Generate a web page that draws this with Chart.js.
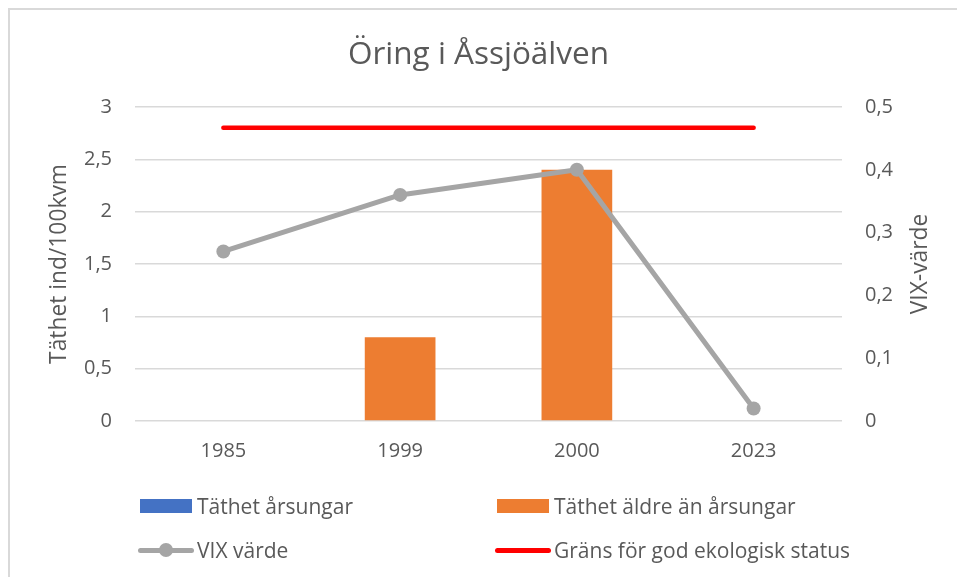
<!DOCTYPE html>
<html>
<head>
<meta charset="utf-8">
<script src="https://cdn.jsdelivr.net/npm/chart.js@4/dist/chart.umd.min.js"></script>
<style>
  html, body { margin: 0; padding: 0; background: #ffffff; }
  #wrap { position: relative; width: 957px; height: 577px; overflow: hidden; font-family: "Open Sans", sans-serif; }
  #frame { position: absolute; left: 8px; top: 8px; width: 1000px; height: 1000px; border-left: 2px solid #d9d9d9; border-top: 2px solid #d9d9d9; }
  canvas { position: absolute; left: 0; top: 0; }
  #legend { position: absolute; left: 0; top: 0; width: 957px; height: 577px; pointer-events: none; }
  .item { position: absolute; height: 30px; display: flex; align-items: center; color: #595959; font-size: 21px; white-space: nowrap; }
  .sw { position: relative; width: 52px; height: 30px; margin-right: 5px; flex: none; }
  .box { position: absolute; left: 0; top: 8px; width: 52px; height: 14px; }
  .ln { position: absolute; left: -2px; top: 13px; width: 56px; height: 5px; border-radius: 3px; }
  .dot { position: absolute; left: 19px; top: 8px; width: 14px; height: 14px; border-radius: 50%; }
</style>
</head>
<body>
<div id="wrap">
  <div id="frame"></div>
  <canvas id="c" width="957" height="577"></canvas>
  <div id="legend"></div>
</div>
<script>
const categories = ["1985", "1999", "2000", "2023"];
const tathetArsungar = [0, 0, 0, 0];
const tathetAldre = [0, 0.8, 2.4, 0];
const vixVarde = [0.27, 0.36, 0.40, 0.02];
const gransGodStatus = [0.467, 0.467, 0.467, 0.467];
const leftTicksMax = 3;
const rightTicksMax = 0.5;

const TXT = '#595959';
const FONT = '"Open Sans", sans-serif';
const fmt = v => (Math.round(v * 10) / 10).toString().replace('.', ',');

// Right axis title drawn reading bottom-to-top (as in the reference)
const rightTitlePlugin = {
  id: 'rightTitle',
  afterDraw(chart) {
    const sc = chart.scales.y1;
    const t = chart.options.scales.y1.title;
    const ctx = chart.ctx;
    ctx.save();
    ctx.translate(921, (sc.top + sc.bottom) / 2);
    ctx.rotate(-Math.PI / 2);
    ctx.fillStyle = TXT;
    ctx.font = `normal ${t.font.size}px ${FONT}`;
    ctx.textAlign = 'center';
    ctx.textBaseline = 'middle';
    ctx.fillText(t.text, 0, 0);
    ctx.restore();
  }
};

const chart = new Chart(document.getElementById('c'), {
  data: {
    labels: categories,
    datasets: [
      { type: 'bar', label: 'Täthet årsungar', data: tathetArsungar, backgroundColor: '#4472C4', yAxisID: 'y', order: 3, grouped: false, barPercentage: 0.4, categoryPercentage: 1.0 },
      { type: 'bar', label: 'Täthet äldre än årsungar', data: tathetAldre, backgroundColor: '#ED7D31', yAxisID: 'y', order: 2, grouped: false, barPercentage: 0.4, categoryPercentage: 1.0 },
      { type: 'line', label: 'VIX värde', data: vixVarde, borderColor: '#A5A5A5', backgroundColor: '#A5A5A5', borderWidth: 5, pointRadius: 7, pointHoverRadius: 7, pointBorderWidth: 0, yAxisID: 'y1', order: 1, tension: 0, borderJoinStyle: 'round', borderCapStyle: 'round' },
      { type: 'line', label: 'Gräns för god ekologisk status', data: gransGodStatus, borderColor: '#FF0000', backgroundColor: '#FF0000', borderWidth: 4.5, pointRadius: 0, pointHoverRadius: 0, yAxisID: 'y1', order: 0, borderCapStyle: 'round' }
    ]
  },
  options: {
    responsive: false,
    animation: false,
    devicePixelRatio: 1,
    layout: { padding: 0 },
    plugins: {
      legend: { display: false },
      tooltip: { enabled: false },
      title: {
        display: true,
        text: 'Öring i Åssjöälven',
        color: TXT,
        font: { family: FONT, size: 31.5, weight: 'normal', lineHeight: 1.2 },
        padding: { top: 36.5, bottom: 32.7 }
      }
    },
    scales: {
      x: {
        grid: { display: false, drawTicks: false },
        border: { display: false },
        ticks: { color: TXT, font: { family: FONT, size: 20 }, padding: 18 },
        afterFit: s => { s.height = 156; }
      },
      y: {
        position: 'left',
        min: 0, max: leftTicksMax,
        ticks: { stepSize: 0.5, color: TXT, font: { family: FONT, size: 20 }, padding: 23, callback: fmt },
        grid: { color: '#d9d9d9', lineWidth: 1.5, drawTicks: false },
        border: { display: false },
        title: { display: true, text: 'Täthet ind/100kvm', color: TXT, font: { family: FONT, size: 22.8 }, padding: { top: 45.5, bottom: 0 } },
        afterFit: s => { s.width = 135; }
      },
      y1: {
        position: 'right',
        min: 0, max: rightTicksMax,
        ticks: { stepSize: 0.1, color: TXT, font: { family: FONT, size: 20 }, padding: 23, callback: fmt },
        grid: { display: false, drawTicks: false },
        border: { display: false },
        title: { display: false, text: 'VIX-värde', color: TXT, font: { family: FONT, size: 22.8 } },
        afterFit: s => { s.width = 115; }
      }
    }
  },
  plugins: [rightTitlePlugin]
});

// HTML legend built from the chart's datasets (two columns, two rows)
const legendPos = [[140, 491], [497, 491], [140, 535], [497, 535]];
const leg = document.getElementById('legend');
chart.data.datasets.forEach((ds, i) => {
  const it = document.createElement('div');
  it.className = 'item';
  it.style.left = legendPos[i][0] + 'px';
  it.style.top = legendPos[i][1] + 'px';
  const sw = document.createElement('span');
  sw.className = 'sw';
  if (ds.type === 'bar') {
    const b = document.createElement('span'); b.className = 'box'; b.style.background = ds.backgroundColor; sw.appendChild(b);
  } else {
    const l = document.createElement('span'); l.className = 'ln'; l.style.background = ds.borderColor; sw.appendChild(l);
    if (ds.pointRadius > 0) { const d = document.createElement('span'); d.className = 'dot'; d.style.background = ds.borderColor; sw.appendChild(d); }
  }
  const t = document.createElement('span');
  t.textContent = ds.label;
  it.appendChild(sw); it.appendChild(t);
  leg.appendChild(it);
});
</script>
</body>
</html>
